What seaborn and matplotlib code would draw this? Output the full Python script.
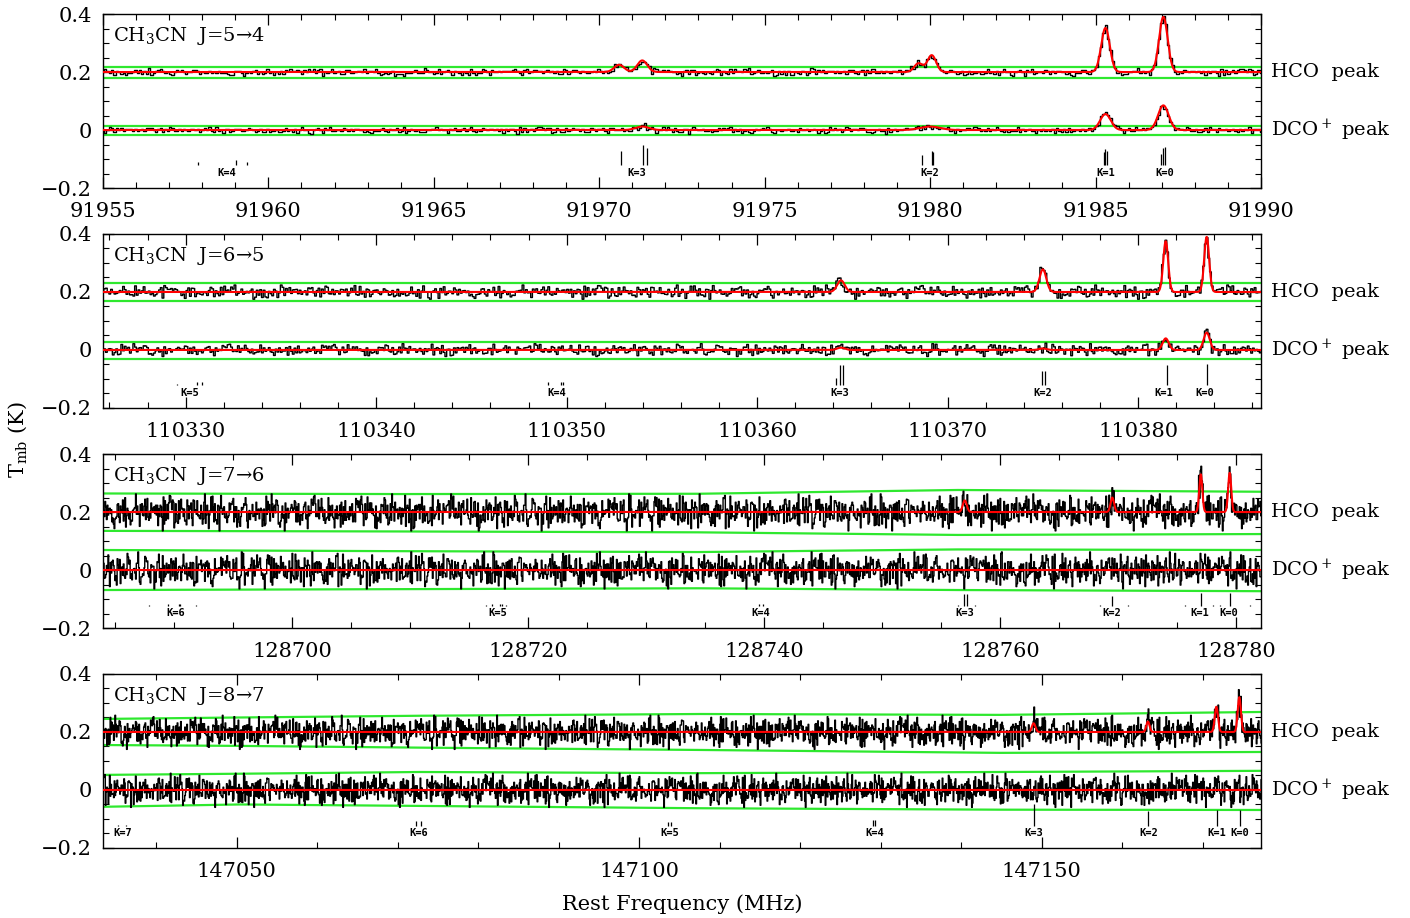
import numpy as np
import matplotlib.pyplot as plt
import seaborn as sns
from matplotlib.ticker import MultipleLocator

sns.set_theme(style='ticks')
plt.rcParams['font.family'] = ['DejaVu Serif']
plt.rcParams['mathtext.fontset'] = 'dejavuserif'
plt.rcParams['text.color'] = 'black'

# ---- panel setup (one panel per CH3CN transition)
titles = ['CH$_3$CN  J=5→4', 'CH$_3$CN  J=6→5', 'CH$_3$CN  J=7→6', 'CH$_3$CN  J=8→7']
xlims = [(91955.0, 91990.0), (110325.66, 110386.45), (128683.96, 128782.1), (147033.39, 147177.24)]
chan_width = [0.07, 0.09, 0.065, 0.085]
xmajor = [[91955, 91960, 91965, 91970, 91975, 91980, 91985, 91990],
          [110330, 110340, 110350, 110360, 110370, 110380],
          [128700, 128720, 128740, 128760, 128780],
          [147050, 147100, 147150]]
xminor = [1, 2, 5, 10]
noise_rms_hco = [0.0055, 0.01, 0.026, 0.024]
noise_rms_dco = [0.005, 0.009, 0.026, 0.024]

# residual pattern (in rms units) used for the channel noise
resid = [0.3, -1.2, 0.8, 1.5, -0.4, -0.9, 0.1, 2.1, -1.6, 0.5, -0.2, 1.1, -0.7, -1.9, 0.9,
         0.2, -0.5, 1.7, -1.1, 0.4, 0.0, -0.8, 1.3, -2.2, 0.6, 0.9, -0.3, -1.4, 1.0, 0.7,
         -0.6, 1.9, -1.0, -0.1, 0.5, -1.7, 1.2, 0.3, -0.9, 2.4, -0.4, -1.3, 0.8, 0.1, -0.7,
         1.4, -2.0, 0.6, 1.0, -0.2, -1.1, 0.4, 1.6, -0.8, -0.3, 0.9, -1.5, 0.2, 1.1, -2.5,
         0.7, -0.5, 1.8, -0.9, 0.3, -1.2, 0.0, 1.3, -0.6, 0.8, -1.8, 1.5, -0.1, -0.4, 2.0,
         -1.0, 0.5, -0.7, 1.2, -1.3, 0.2, 0.6, -2.1, 1.0, -0.3, 0.4, -0.9, 1.6, -0.5, -1.6,
         0.9, 0.1, -1.1, 2.2, -0.8, 0.3, 0.7, -1.4, 1.1, -0.2, -0.6]

# ---- fitted lines (centre MHz, peak K, sigma MHz)
hco1_c = [91970.6, 91971.3, 91979.65, 91980.05, 91985.30, 91987.05]
hco1_a = [0.025, 0.04, 0.03, 0.058, 0.152, 0.19]
hco1_s = [0.15, 0.15, 0.13, 0.13, 0.13, 0.13]
dco1_c = [91971.3, 91980.0, 91985.30, 91987.05]
dco1_a = [0.012, 0.012, 0.055, 0.085]
dco1_s = [0.2, 0.3, 0.16, 0.16]

hco2_c = [110364.4, 110375.0, 110381.45, 110383.6]
hco2_a = [0.04, 0.078, 0.175, 0.19]
hco2_s = [0.2, 0.18, 0.13, 0.13]
dco2_c = [110364.4, 110375.0, 110381.45, 110383.6]
dco2_a = [0.008, 0.005, 0.04, 0.06]
dco2_s = [0.2, 0.2, 0.16, 0.16]

hco3_c = [128757.0, 128769.5, 128777.0, 128779.45]
hco3_a = [0.04, 0.05, 0.13, 0.135]
hco3_s = [0.17, 0.15, 0.13, 0.13]
dco3_c, dco3_a, dco3_s = [], [], []

hco4_c = [147149.0, 147163.2, 147171.7, 147174.55]
hco4_a = [0.03, 0.036, 0.087, 0.12]
hco4_s = [0.22, 0.2, 0.2, 0.2]
dco4_c, dco4_a, dco4_s = [], [], []

# ---- noise envelopes (green)
env1_x = [91955.0, 91990.0]
env1_hco_up, env1_hco_lo = [0.218, 0.218], [0.181, 0.181]
env1_dco_up, env1_dco_lo = [0.015, 0.015], [-0.016, -0.016]
env2_x = [110325.66, 110386.45]
env2_hco_up, env2_hco_lo = [0.23, 0.23], [0.17, 0.17]
env2_dco_up, env2_dco_lo = [0.029, 0.029], [-0.031, -0.031]
env3_x = [128683.96, 128709.1, 128734.4, 128756.4, 128782.1]
env3_hco_up = [0.264, 0.262, 0.263, 0.276, 0.270]
env3_hco_lo = [0.135, 0.133, 0.130, 0.121, 0.124]
env3_dco_up = [0.069, 0.065, 0.062, 0.071, 0.069]
env3_dco_lo = [-0.069, -0.066, -0.063, -0.069, -0.073]
env4_x = [147033.39, 147050.4, 147072.8, 147107.6, 147144.8, 147177.24]
env4_hco_up = [0.245, 0.250, 0.256, 0.262, 0.259, 0.269]
env4_hco_lo = [0.155, 0.152, 0.146, 0.138, 0.128, 0.131]
env4_dco_up = [0.052, 0.056, 0.062, 0.058, 0.062, 0.066]
env4_dco_lo = [-0.058, -0.050, -0.055, -0.063, -0.068, -0.069]

# ---- hyperfine markers and K labels
hf1_f = [91956.81, 91957.87, 91959.02, 91959.34, 91959.92,
         91970.65, 91970.80, 91971.16, 91971.32, 91971.45,
         91979.19, 91979.75, 91980.05, 91980.09, 91980.83,
         91984.03, 91985.25, 91985.30, 91985.35, 91986.20,
         91986.97, 91987.04, 91987.11, 91988.85]
hf1_h = [0.003, 0.01, 0.017, 0.01, 0.003,
         0.05, 0.003, 0.003, 0.07, 0.06,
         0.003, 0.035, 0.05, 0.045, 0.003,
         0.003, 0.045, 0.055, 0.05, 0.003,
         0.04, 0.06, 0.065, 0.003]
k1_f = [91958.73, 91971.13, 91979.99, 91985.31, 91987.09]

hf2_f = [110329.56, 110330.58, 110330.84,
         110349.04, 110349.71, 110349.79,
         110364.14, 110364.35, 110364.50,
         110374.93, 110375.10,
         110381.50, 110383.63]
hf2_h = [0.006, 0.01, 0.01, 0.012, 0.012, 0.012, 0.025, 0.07, 0.07, 0.05, 0.05, 0.07, 0.075]
k2_f = [110330.2, 110349.47, 110364.35, 110374.99, 110381.37, 110383.5]

hf3_f = [128687.9, 128689.46, 128690.4, 128690.5, 128691.85,
         128716.4, 128716.9, 128717.6, 128717.75, 128718.1,
         128739.6, 128739.9,
         128756.4, 128756.9, 128757.15, 128757.85,
         128768.45, 128769.5, 128770.85,
         128775.65, 128777.0, 128778.05, 128778.6,
         128779.45, 128781.2]
hf3_h = [0.003, 0.006, 0.006, 0.006, 0.003,
         0.003, 0.006, 0.006, 0.006, 0.003,
         0.008, 0.008,
         0.003, 0.04, 0.04, 0.003,
         0.003, 0.035, 0.003,
         0.003, 0.045, 0.003, 0.003,
         0.045, 0.003]
k3_f = [128690.1, 128717.4, 128739.68, 128757.03, 128769.44, 128776.88, 128779.36]

hf4_f = [147035.3, 147036.2, 147072.3, 147072.9, 147103.6, 147103.9,
         147129.1, 147129.35, 147149.07, 147163.24, 147171.75, 147174.59]
hf4_h = [0.003, 0.003, 0.017, 0.017, 0.015, 0.015, 0.02, 0.02, 0.076, 0.05, 0.055, 0.055]
k4_f = [147035.84, 147072.6, 147103.74, 147129.23, 147149.07, 147163.24, 147171.75, 147174.59]

panels = [
    dict(hco=(hco1_c, hco1_a, hco1_s), dco=(dco1_c, dco1_a, dco1_s),
         env=(env1_x, env1_hco_up, env1_hco_lo, env1_dco_up, env1_dco_lo),
         hf=(hf1_f, hf1_h), kf=k1_f, kstart=4, base=-0.122),
    dict(hco=(hco2_c, hco2_a, hco2_s), dco=(dco2_c, dco2_a, dco2_s),
         env=(env2_x, env2_hco_up, env2_hco_lo, env2_dco_up, env2_dco_lo),
         hf=(hf2_f, hf2_h), kf=k2_f, kstart=5, base=-0.122),
    dict(hco=(hco3_c, hco3_a, hco3_s), dco=(dco3_c, dco3_a, dco3_s),
         env=(env3_x, env3_hco_up, env3_hco_lo, env3_dco_up, env3_dco_lo),
         hf=(hf3_f, hf3_h), kf=k3_f, kstart=6, base=-0.124),
    dict(hco=(hco4_c, hco4_a, hco4_s), dco=(dco4_c, dco4_a, dco4_s),
         env=(env4_x, env4_hco_up, env4_hco_lo, env4_dco_up, env4_dco_lo),
         hf=(hf4_f, hf4_h), kf=k4_f, kstart=7, base=-0.124),
]


def model(f, lines, offset):
    c, a, s = lines
    y = np.full_like(f, offset)
    for ci, ai, si in zip(c, a, s):
        y += ai * np.exp(-0.5 * ((f - ci) / si) ** 2)
    return y


def noise(n, stride, rms):
    r = np.array(resid)
    idx = [(i * (stride + 2 * (i // 101))) % 101 for i in range(n)]
    return rms * r[idx]


fig = plt.figure(figsize=(14.1, 9.18), dpi=100)
bottoms = [0.7952, 0.5556, 0.3159, 0.0763]
green = '#2ee82e'

for p, (pan, bot) in enumerate(zip(panels, bottoms)):
    ax = fig.add_axes([0.0730, bot, 0.8213, 0.1895])
    x0, x1 = xlims[p]
    f = np.arange(x0, x1 + chan_width[p], chan_width[p])
    ffine = np.linspace(x0, x1, 6000)

    ex, hu, hl, du, dl = pan['env']
    for yy in (hu, hl, du, dl):
        sns.lineplot(x=ex, y=yy, ax=ax, color=green, lw=1.6, zorder=1, estimator=None, sort=False)

    spec_h = model(f, pan['hco'], 0.2) + noise(len(f), 7 + 4 * p, noise_rms_hco[p])
    spec_d = model(f, pan['dco'], 0.0) + noise(len(f), 13 + 6 * p, noise_rms_dco[p])
    sns.lineplot(x=f, y=spec_h, ax=ax, color='black', lw=1.0, drawstyle='steps-mid',
                 zorder=2, estimator=None, sort=False)
    sns.lineplot(x=f, y=spec_d, ax=ax, color='black', lw=1.0, drawstyle='steps-mid',
                 zorder=2, estimator=None, sort=False)
    sns.lineplot(x=ffine, y=model(ffine, pan['hco'], 0.2), ax=ax, color='red', lw=1.5,
                 zorder=3, estimator=None, sort=False)
    sns.lineplot(x=ffine, y=model(ffine, pan['dco'], 0.0), ax=ax, color='red', lw=1.5,
                 zorder=3, estimator=None, sort=False)

    hf_f, hf_h = pan['hf']
    base = pan['base']
    ax.vlines(hf_f, base, np.array(hf_h) + base, color='black', lw=0.9, zorder=2)
    for j, kf in enumerate(pan['kf']):
        ax.text(kf, -0.148, f'K={pan["kstart"] - j}', ha='center', va='center', fontsize=7.5,
                fontweight='bold', family='DejaVu Sans Mono', color='black')

    ax.set_xlim(x0, x1)
    ax.set_ylim(-0.2, 0.4)
    ax.set_xticks(xmajor[p])
    ax.set_xticklabels([str(v) for v in xmajor[p]])
    ax.xaxis.set_minor_locator(MultipleLocator(xminor[p]))
    ax.set_yticks([-0.2, 0, 0.2, 0.4])
    ax.set_yticklabels(['\u22120.2', '0', '0.2', '0.4'])
    ax.yaxis.set_minor_locator(MultipleLocator(0.05))
    ax.tick_params(which='both', direction='in', top=True, right=True, labelsize=15,
                   color='black', labelcolor='black')
    ax.tick_params(which='major', length=8, width=0.9, pad=8)
    ax.tick_params(axis='x', which='major', pad=10)
    ax.tick_params(which='minor', length=4, width=0.8)
    for sp in ax.spines.values():
        sp.set_color('black')
        sp.set_linewidth(1.0)
    ax.set_xlabel('')
    ax.set_ylabel('')

    ax.text(0.0086, 0.874, titles[p], transform=ax.transAxes, fontsize=14, va='center', ha='left')
    tr = ax.get_yaxis_transform()
    ax.text(1.0086, 0.2, 'HCO  peak', transform=tr, fontsize=14, va='center', ha='left')
    ax.text(1.0086, 0.0, 'DCO$^+$ peak', transform=tr, fontsize=14, va='center', ha='left')

fig.text(0.0128, 0.521, 'T$_{\\rm mb}$ (K)', rotation=90, fontsize=15, va='center', ha='center')
fig.text(0.4837, 0.015, 'Rest Frequency (MHz)', fontsize=15, va='center', ha='center')

fig.savefig('out.png', dpi=100)
